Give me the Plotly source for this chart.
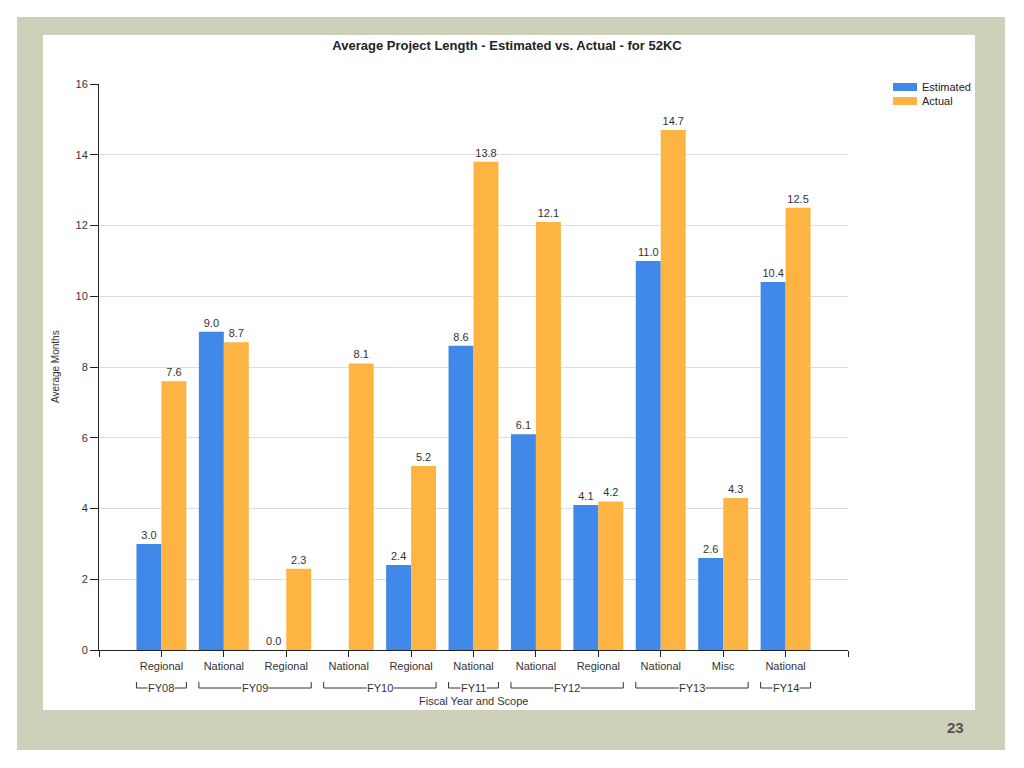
import plotly.graph_objects as go

# ---- data ----
scopes = ["Regional", "National", "Regional", "National", "Regional", "National",
          "National", "Regional", "National", "Misc", "National"]
estimated = [3.0, 9.0, 0.0, None, 2.4, 8.6, 6.1, 4.1, 11.0, 2.6, 10.4]
actual = [7.6, 8.7, 2.3, 8.1, 5.2, 13.8, 12.1, 4.2, 14.7, 4.3, 12.5]
fiscal_years = ["FY08", "FY09", "FY10", "FY11", "FY12", "FY13", "FY14"]
fy_start = [0, 1, 3, 5, 6, 8, 10]
fy_end = [0, 2, 4, 5, 7, 9, 10]
y_ticks = [0, 2, 4, 6, 8, 10, 12, 14, 16]
series_names = ["Estimated", "Actual"]

OFF = 8  # page body margin
W, H = 1016, 760
L, R, T, B = 99, 848, 84, 650  # plot area in screenshot pixels


def px(x):
    return (x - L) / (R - L)


def py(y):
    return (B - y) / (B - T)


FONT = "Arial, Liberation Sans, sans-serif"
BLUE = "#4189E8"
ORANGE = "#FDB443"
FRAME = "#CED0B9"
TXT = "#333333"

xs = list(range(len(scopes)))

fig = go.Figure()
for name, vals, col in [(series_names[0], estimated, BLUE), (series_names[1], actual, ORANGE)]:
    fig.add_trace(go.Bar(
        x=xs, y=vals, name=name, marker_color=col, marker_line_width=0,
        texttemplate="%{y:.1f}", textposition="outside", cliponaxis=False,
        textfont=dict(size=11, color=TXT, family=FONT), showlegend=False,
    ))

shapes = [
    dict(type="rect", xref="paper", yref="paper", x0=px(17), x1=px(1005),
         y0=py(17), y1=py(750), fillcolor=FRAME, line_width=0, layer="below"),
    dict(type="rect", xref="paper", yref="paper", x0=px(43), x1=px(975),
         y0=py(35), y1=py(710), fillcolor="white", line_width=0, layer="below"),
]
annotations = []

# fiscal year brackets
for fy, s, e in zip(fiscal_years, fy_start, fy_end):
    x0, x1 = s - 0.4, e + 0.4
    yl, yt = py(688), py(682)
    for (a0, a1, b0, b1) in [(x0, x1, yl, yl), (x0, x0, yl, yt), (x1, x1, yl, yt)]:
        shapes.append(dict(type="line", xref="x", yref="paper", x0=a0, x1=a1, y0=b0, y1=b1,
                           line=dict(color=TXT, width=1)))
    annotations.append(dict(x=(s + e) / 2, y=yl, xref="x", yref="paper", text=fy,
                            showarrow=False, bgcolor="white", borderpad=0,
                            font=dict(size=11, color=TXT, family=FONT),
                            xanchor="center", yanchor="middle"))

# custom legend
for i, (name, col) in enumerate([(series_names[0], BLUE), (series_names[1], ORANGE)]):
    yc = 87 + 14 * i
    shapes.append(dict(type="rect", xref="paper", yref="paper",
                       x0=px(893), x1=px(917), y0=py(yc - 4), y1=py(yc + 4),
                       fillcolor=col, line_width=0))
    annotations.append(dict(x=px(920), y=py(yc), xref="paper", yref="paper", text=name,
                            showarrow=False, xanchor="left", yanchor="middle",
                            font=dict(size=11, color="#222222", family=FONT)))

annotations += [
    dict(x=px(55), y=py(367), xref="paper", yref="paper", text="Average Months",
         textangle=-90, showarrow=False, xanchor="center", yanchor="middle",
         font=dict(size=10, color=TXT, family=FONT)),
    dict(x=px(473), y=py(701), xref="paper", yref="paper", text="Fiscal Year and Scope",
         showarrow=False, xanchor="center", yanchor="middle",
         font=dict(size=11, color=TXT, family=FONT)),
    dict(x=px(955), y=py(727), xref="paper", yref="paper", text="<b>23</b>",
         showarrow=False, xanchor="center", yanchor="middle",
         font=dict(size=15, color="#555555", family=FONT)),
]

fig.update_layout(
    width=W, height=H,
    margin=dict(l=L - OFF, r=W - (R - OFF), t=T - OFF, b=H - (B - OFF), autoexpand=False),
    paper_bgcolor="white", plot_bgcolor="rgba(0,0,0,0)",
    barmode="group", bargap=0.2, bargroupgap=0,
    font=dict(family=FONT, color=TXT),
    title=dict(text="<b>Average Project Length - Estimated vs. Actual - for 52KC</b>",
               x=px(507), xref="paper", xanchor="center",
               y=1 - (45 - OFF) / H, yref="container", yanchor="middle",
               font=dict(size=13, color="#222222", family=FONT)),
    showlegend=False,
    shapes=shapes, annotations=annotations,
    xaxis=dict(range=[-1, 11], tickmode="array",
               tickvals=[-1] + xs + [11], ticktext=[""] + scopes + [""],
               ticks="outside", ticklen=6, tickcolor="#222222",
               showline=True, linecolor="#222222", linewidth=1,
               showgrid=False, zeroline=False,
               tickfont=dict(size=11, color=TXT, family=FONT)),
    yaxis=dict(range=[0, 16], tickvals=y_ticks,
               ticks="outside", ticklen=8, tickcolor="#222222",
               showline=True, linecolor="#222222", linewidth=1,
               showgrid=True, gridcolor="#DDDDDD", zeroline=False,
               tickfont=dict(size=11, color=TXT, family=FONT)),
)

fig.write_html("out.html")
